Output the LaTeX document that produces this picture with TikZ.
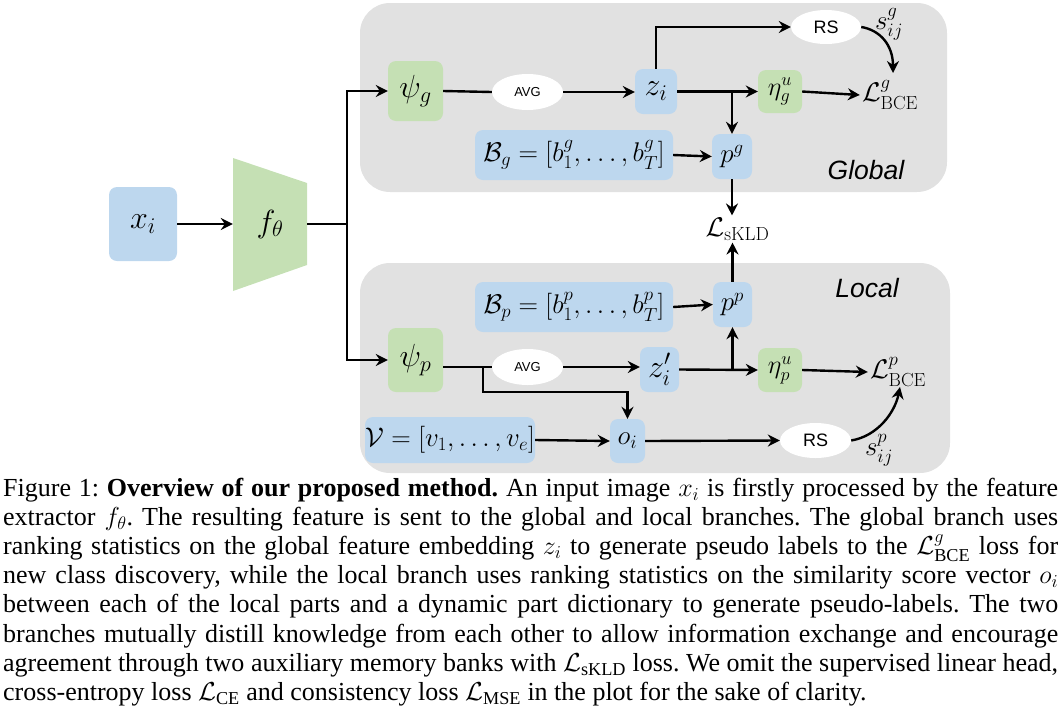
\RequirePackage{fix-cm}
\documentclass[tikz,border=0pt]{standalone}
\usepackage{amsmath}
\usepackage{fontspec}
\newfontfamily\capfont{Liberation Serif}
\newfontfamily\arialfont{Liberation Sans}
\usetikzlibrary{arrows.meta,shapes.geometric,calc}
\definecolor{boxblue}{RGB}{189,215,238}
\definecolor{boxgreen}{RGB}{197,224,180}
\definecolor{panelgray}{RGB}{225,225,225}
\tikzset{
  arr/.style={-{Stealth[length=12pt,width=12pt,inset=4pt]}, line width=2.4pt},
  ln/.style={line width=2.4pt},
  bluebox/.style={fill=boxblue, rounded corners=8pt, inner sep=0pt, align=center},
  greenbox/.style={fill=boxgreen, rounded corners=8pt, inner sep=0pt, align=center},
  oval/.style={ellipse, fill=white, inner sep=0pt, font=\arialfont},
  panel/.style={fill=panelgray, rounded corners=30pt},
  lbl/.style={inner sep=2pt},
  big/.style={font=\fontsize{32}{36}\selectfont},
  mid/.style={font=\fontsize{27}{31}\selectfont},
  tag/.style={font=\fontsize{26.5}{30}\selectfont\arialfont\itshape}
}
\begin{document}
\begin{tikzpicture}[x=1pt,y=-1pt]
\useasboundingbox (0,0) rectangle (1061,710);
% panels
\fill[panel] (360,3) rectangle (947,192);
\fill[panel] (360,263) rectangle (950,473);
% input and backbone
\node[bluebox, big, minimum width=68pt, minimum height=74pt] (xi) at (143,224) {$x_i$};
\fill[boxgreen] (233,158) -- (307,183) -- (307,265) -- (233,291) -- cycle;
\node[inner sep=0pt, minimum width=74pt, minimum height=82pt, big] (f) at (270,224) {$f_\theta$};
\coordinate (junc) at (347,224);
% global branch
\node[greenbox, big, minimum width=55pt, minimum height=60pt] (psig) at (415.5,91) {$\psi_g$};
\node[oval, minimum width=71pt, minimum height=36pt, font=\fontsize{13}{15}\selectfont\arialfont] (avg1) at (527.5,92) {AVG};
\node[bluebox, big, minimum width=42pt, minimum height=45pt] (zi) at (656,91.5) {$z_i$};
\node[bluebox, mid, minimum width=198pt, minimum height=50pt] (Bg) at (574,155) {$\mathcal{B}_g=[b^g_1,\ldots,b^g_T]$};
\node[bluebox, mid, minimum width=40pt, minimum height=45pt] (pg) at (732,156.5) {$p^g$};
\node[greenbox, font=\fontsize{26}{30}\selectfont, minimum width=44pt, minimum height=43pt] (etag) at (780,91.5) {$\eta^u_g$};
\node[oval, minimum width=70pt, minimum height=34pt, font=\fontsize{18}{21}\selectfont\arialfont] (rs1) at (826,27) {RS};
\node[lbl, mid] (Lg) at (890,95) {$\mathcal{L}^g_{\mathrm{BCE}}$};
\node[lbl, mid] (sg) at (889,24) {$s^g_{ij}$};
\node[tag] (global) at (866,170) {Global};
\node[lbl, mid] (Lkld) at (737.5,229) {$\mathcal{L}_{\mathrm{sKLD}}$};
% local branch
\node[tag] (local) at (867,288) {Local};
\node[bluebox, mid, minimum width=198pt, minimum height=50pt] (Bp) at (574,307) {$\mathcal{B}_p=[b^p_1,\ldots,b^p_T]$};
\node[bluebox, mid, minimum width=39pt, minimum height=45pt] (pp) at (732.5,304.5) {$p^p$};
\node[greenbox, big, minimum width=55pt, minimum height=64pt] (psip) at (415.5,360) {$\psi_p$};
\node[oval, minimum width=71pt, minimum height=36pt, font=\fontsize{13}{15}\selectfont\arialfont] (avg2) at (527.5,367) {AVG};
\node[bluebox, big, minimum width=39pt, minimum height=45pt] (zpi) at (659.5,369.5) {$z'_i$};
\node[greenbox, font=\fontsize{26}{30}\selectfont, minimum width=44pt, minimum height=44pt] (etap) at (780,370) {$\eta^u_p$};
\node[lbl, mid] (Lp) at (898,372) {$\mathcal{L}^p_{\mathrm{BCE}}$};
\node[bluebox, mid, minimum width=170pt, minimum height=46pt] (V) at (450,440) {$\mathcal{V}=[v_1,\ldots,v_e]$};
\node[bluebox, mid, minimum width=35pt, minimum height=44pt] (oi) at (627.5,441) {$o_i$};
\node[oval, minimum width=71pt, minimum height=35pt, font=\fontsize{18}{21}\selectfont\arialfont] (rs2) at (815.5,440.5) {RS};
\node[lbl, mid] (sp) at (879,450) {$s^p_{ij}$};
% connectors
\draw[arr] (xi) -- (f.west);
\draw[ln] (f.east) -- (junc);
\draw[arr] (junc) |- (psig.west);
\draw[arr] (junc) |- (psip.west);
\draw[ln] (psig.east) -- (avg1.west);
\draw[arr] (avg1.east) -- (zi.west |- avg1.east);
\draw[arr] (zi.north) |- (rs1.west);
\draw[arr] (zi.east) -- (etag.west);
\draw[arr] (pg.north |- zi.east) -- (pg.north);
\draw[arr] (etag.east) -- (Lg.west);
\coordinate (lgtop) at (893,73);
\draw[arr] (rs1.east) .. controls (880,30) and (893,45) .. (lgtop);
\draw[arr] (Bg.east) -- (pg.west);
\draw[arr] (pg.south) -- (pg.south |- Lkld.north);
\draw[arr] (pp.north) -- (pp.north |- Lkld.south);
\draw[arr] (Bp.east) -- (pp.west);
\draw[ln] (psip.east |- avg2.center) -- (avg2.west);
\draw[arr] (avg2.east) -- (zpi.west |- avg2.east);
\coordinate (bp1) at (483,367);
\coordinate (bp2) at (483,392);
\draw[arr] (bp1) -- (bp2) -| (oi.north);
\draw[arr] (zpi.east) -- (etap.west);
\draw[arr] (pp.south |- zpi.east) -- (pp.south);
\draw[arr] (etap.east) -- (Lp.west);
\draw[arr] (V.east) -- (oi.west);
\draw[arr] (oi.east) -- (rs2.west);
\coordinate (lpbot) at (900,387);
\draw[arr] (rs2.east) .. controls (878,436) and (895,412) .. (lpbot);
% caption
\node[anchor=north west, inner sep=0pt, text width=1055pt, align=justify,
      font=\capfont\fontsize{26}{29.1}\selectfont\frenchspacing] (cap) at (3,478) {%
Figure 1: \textbf{Overview of our proposed method.} An input image $x_i$ is firstly processed by the feature\linebreak
extractor $f_\theta$. The resulting feature is sent to the global and local branches. The global branch uses\linebreak
ranking statistics on the global feature embedding $z_i$ to generate pseudo labels to the $\mathcal{L}^g_{\text{BCE}}$ loss for\linebreak
new class discovery, while the local branch uses ranking statistics on the similarity score vector $o_i$\linebreak
between each of the local parts and a dynamic part dictionary to generate pseudo-labels. The two\linebreak
branches mutually distill knowledge from each other to allow information exchange and encourage\linebreak
agreement through two auxiliary memory banks with $\mathcal{L}_{\text{sKLD}}$ loss. We omit the supervised linear head,\linebreak
cross-entropy loss $\mathcal{L}_{\text{CE}}$ and consistency loss $\mathcal{L}_{\text{MSE}}$ in the plot for the sake of clarity.};
\end{tikzpicture}
\end{document}
